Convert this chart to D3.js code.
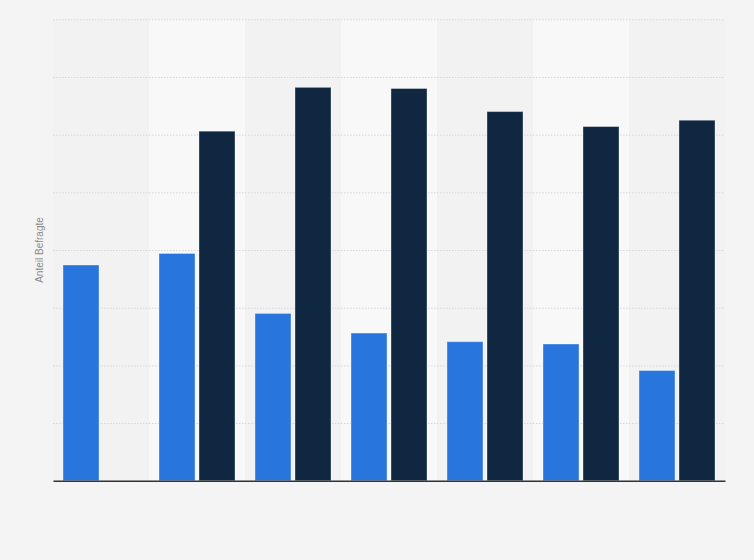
<!DOCTYPE html>
<html>
<head>
<meta charset="utf-8">
<script src="https://cdn.jsdelivr.net/npm/d3@7"></script>
<style>
  html, body { margin: 0; padding: 0; background: #f4f4f4; }
  svg { display: block; font-family: "Liberation Sans", Arial, sans-serif; }
</style>
</head>
<body>
<div id="chart"></div>
<script>
// values (the reference has no visible tick labels)
const categories = ['G1', 'G2', 'G3', 'G4', 'G5', 'G6', 'G7'];
const seriesNames = ['Serie A', 'Serie B'];
const seriesA = [37.4, 39.4, 29.0, 25.6, 24.1, 23.7, 19.1];
const seriesB = [null, 60.6, 68.2, 68.0, 64.0, 61.4, 62.5];
const yTicks = [0, 10, 20, 30, 40, 50, 60, 70, 80];

const width = 754;
const height = 560;
const margin = {top: 19.3, right: 29, bottom: 79.3, left: 53};
const colors = ['#2876dd', '#0f2741'];

const svg = d3.select('#chart')
  .append('svg')
  .attr('width', width)
  .attr('height', height);

const x0 = d3.scaleBand()
  .domain(categories)
  .range([margin.left, width - margin.right])
  .padding(0);

const x1 = d3.scaleBand()
  .domain(seriesNames)
  .range([0, x0.bandwidth()])
  .paddingInner(0.1)
  .paddingOuter(0.25);

const y = d3.scaleLinear()
  .domain([0, 80])
  .range([height - margin.bottom, margin.top]);

// alternating column bands
svg.append('g')
  .selectAll('rect')
  .data(categories)
  .join('rect')
    .attr('x', d => x0(d))
    .attr('y', y(80))
    .attr('width', x0.bandwidth())
    .attr('height', y(0) - y(80))
    .attr('fill', (d, i) => i % 2 ? '#f8f8f8' : '#f2f2f2');

// dotted gridlines
svg.append('g')
  .attr('transform', `translate(${margin.left},0)`)
  .call(d3.axisLeft(y).tickValues(yTicks).tickSize(-(width - margin.left - margin.right)).tickFormat(''))
  .call(g => g.select('.domain').remove())
  .call(g => g.selectAll('.tick line')
    .attr('stroke', '#d6d6d6')
    .attr('stroke-dasharray', '1.5,1.5'));

const rows = categories.map((c, i) => ({cat: c, values: [seriesA[i], seriesB[i]]}));

svg.append('g')
  .selectAll('g')
  .data(rows)
  .join('g')
    .attr('transform', d => `translate(${x0(d.cat)},0)`)
  .selectAll('rect')
  .data(d => d.values.map((v, k) => ({name: seriesNames[k], k, v})).filter(e => e.v != null))
  .join('rect')
    .attr('x', d => x1(d.name))
    .attr('y', d => y(d.v))
    .attr('width', x1.bandwidth())
    .attr('height', d => y(0) - y(d.v))
    .attr('fill', d => colors[d.k])
    .attr('stroke', 'rgba(255,255,255,0.35)')
    .attr('stroke-width', 1);

// baseline
svg.append('g')
  .attr('transform', `translate(0,${y(0)})`)
  .call(d3.axisBottom(x0).tickSize(0).tickFormat(''))
  .call(g => g.select('.domain').attr('stroke', '#333').attr('stroke-width', 1.5));

// y axis title
svg.append('text')
  .attr('transform', `translate(43,${(y(0) + y(80)) / 2}) rotate(-90)`)
  .attr('text-anchor', 'middle')
  .attr('font-size', 10)
  .attr('fill', '#8a8a8a')
  .text('Anteil Befragte');
</script>
</body>
</html>
